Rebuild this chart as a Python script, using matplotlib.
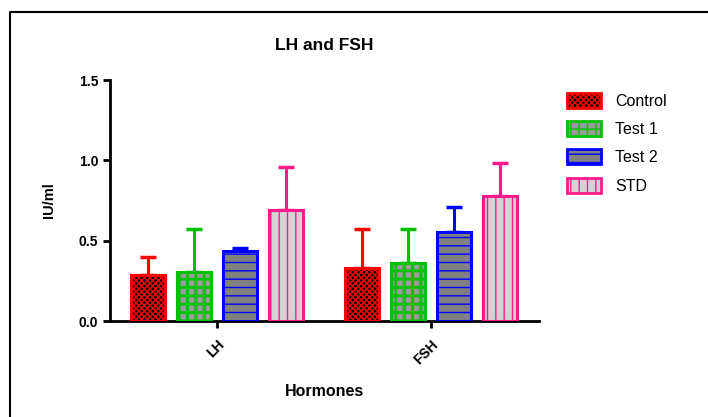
import matplotlib
matplotlib.use("Agg")
import matplotlib.pyplot as plt
import numpy as np
from matplotlib.lines import Line2D
from matplotlib.patches import Patch

hormones = ["LH", "FSH"]
groups = ["Control", "Test 1", "Test 2", "STD"]
means = {
    "Control": [0.285, 0.33],
    "Test 1": [0.305, 0.36],
    "Test 2": [0.435, 0.555],
    "STD": [0.69, 0.78],
}
errors = {
    "Control": [0.115, 0.24],
    "Test 1": [0.265, 0.21],
    "Test 2": [0.02, 0.155],
    "STD": [0.27, 0.205],
}

edge_colors = ["#ff0000", "#00c000", "#0000ff", "#ff1a8c"]
face_colors = ["#000000", "#9a9a9a", "#808080", "#d3d3d3"]
hatches = ["xxxxxx", "++", "--", "||"]
hatch_widths = [1.0, 2.0, 1.0, 1.0]

plt.rcParams["font.family"] = ["Liberation Sans", "DejaVu Sans"]

fig = plt.figure(figsize=(7.08, 4.17), dpi=100)
ax = fig.add_axes([0.1554, 0.2302, 0.6056, 0.5778])

x = np.arange(len(hormones))
step = 0.215
width = 0.159

for i, g in enumerate(groups):
    pos = x + (i - 1.5) * step
    # fill + hatch (hatch takes the edge colour)
    with plt.rc_context({"hatch.linewidth": hatch_widths[i]}):
        ax.bar(pos, means[g], width, color=face_colors[i], edgecolor=edge_colors[i],
               hatch=hatches[i], linewidth=0, zorder=2)
    # outline
    ax.bar(pos, means[g], width, fill=False, edgecolor=edge_colors[i],
           linewidth=2.2, zorder=3)
    ax.errorbar(pos, means[g], yerr=[np.zeros(len(hormones)), errors[g]],
                fmt="none", ecolor=edge_colors[i], elinewidth=2.2,
                capsize=5.5, capthick=2.5, zorder=1)

ax.set_xlim(-0.5, 1.505)
ax.set_ylim(0, 1.5)
ax.set_yticks([0.0, 0.5, 1.0, 1.5])
ax.set_yticklabels(["0.0", "0.5", "1.0", "1.5"], fontsize=10, fontweight="bold")
ax.set_xticks(x)
ax.set_xticklabels(hormones, rotation=45, ha="right", rotation_mode="anchor",
                   fontsize=10, fontweight="bold")

for side in ["top", "right"]:
    ax.spines[side].set_visible(False)
for side in ["left", "bottom"]:
    ax.spines[side].set_linewidth(2)
ax.tick_params(axis="both", width=2, length=5, direction="out")
ax.tick_params(axis="x", pad=7)

ax.set_title("LH and FSH", fontsize=12.5, fontweight="bold", pad=22)
ax.set_ylabel("IU/ml", fontsize=10.5, fontweight="bold", labelpad=16)
ax.set_xlabel("Hormones", fontsize=11.5, fontweight="bold", labelpad=12)

handles = []
for i in range(len(groups)):
    with plt.rc_context({"hatch.linewidth": hatch_widths[i]}):
        handles.append(Patch(facecolor=face_colors[i], edgecolor=edge_colors[i],
                             hatch=hatches[i], linewidth=2))
fig.legend(handles, groups, loc="upper left", bbox_to_anchor=(0.781, 0.812),
           frameon=False, fontsize=11.5, handlelength=2.1, handleheight=1.05,
           labelspacing=0.78, handletextpad=0.9)

# partial frame around the figure
fig.add_artist(Line2D([10 / 708, 10 / 708, 1.0], [0.0, 1 - 12 / 417, 1 - 12 / 417],
                      transform=fig.transFigure, color="black", linewidth=1.5))

fig.savefig("out.png", dpi=100, facecolor="white")
